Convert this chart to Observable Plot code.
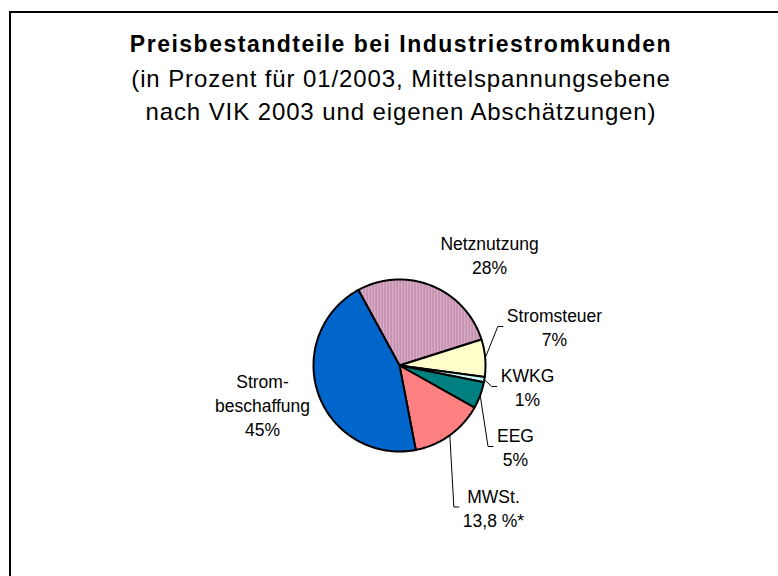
<!DOCTYPE html>
<html>
<head>
<meta charset="utf-8">
<script src="https://cdn.jsdelivr.net/npm/d3@7"></script>
<script src="https://cdn.jsdelivr.net/npm/@observablehq/plot@0.6"></script>
<style>
  html, body { margin: 0; padding: 0; background: #fff; overflow: hidden; width: 778px; height: 576px; }
  body { position: relative; font-family: "Liberation Sans", Arial, sans-serif; color: #000; }
  #frame { position: absolute; left: 9px; top: 11px; width: 900px; height: 700px; border-left: 2px solid #000; border-top: 2px solid #000; }
  .tline { position: absolute; left: 0; width: 802px; text-align: center; line-height: 30px; white-space: nowrap; }
  #t0 { top: 29px; font-size: 23px; font-weight: bold; letter-spacing: 1.5px; }
  #t1 { top: 64px; font-size: 24px; letter-spacing: 0.9px; }
  #t2 { top: 97px; font-size: 24px; letter-spacing: 0.9px; }
  #chart { position: absolute; left: 0; top: 140px; }
</style>
</head>
<body>
<div id="frame"></div>
<div class="tline" id="t0"></div>
<div class="tline" id="t1"></div>
<div class="tline" id="t2"></div>
<div id="chart"></div>
<script>
// ---- data ----
const titleLines = [
  "Preisbestandteile bei Industriestromkunden",
  "(in Prozent für 01/2003, Mittelspannungsebene",
  "nach VIK 2003 und eigenen Abschätzungen)"
];
const names = ["Netznutzung", "Stromsteuer", "KWKG", "EEG", "MWSt.", "Strom-\nbeschaffung"];
const values = [28, 7, 1, 5, 13.8, 45];
const pctLabels = ["28%", "7%", "1%", "5%", "13,8 %*", "45%"];
const colors = ["url(#netz-stripes)", "#FFFFCC", "#CCFFFF", "#008080", "#FF8080", "#0066CC"];

// ---- layout (not data) ----
const W = 778, H = 436;
const CX = 399, CY = 225, R = 86;           // pie centre / radius in svg pixels
const START_DEG = -28.6;                     // first slice boundary, clockwise from 12 o'clock
const labelOffsetPx = [[90, -111], [155, -39], [128, 21], [116, 81], [94, 141.5], [-137, 39]];
const hasLeader = [false, true, true, true, true, false];
const FONT_SIZE = 17.5, LINE_H = 24;

titleLines.forEach((t, i) => document.getElementById("t" + i).textContent = t);

const pie = d3.pie().sort(null).value(d => d.value)
  .startAngle(START_DEG * Math.PI / 180)
  .endAngle(START_DEG * Math.PI / 180 + 2 * Math.PI);
const rows = names.map((n, i) => ({name: n, value: values[i], pct: pctLabels[i], color: colors[i], i}));
const arcs = pie(rows);

// unit coordinates: radius = 1, y up
const polar = (a, r) => ({x: r * Math.sin(a), y: r * Math.cos(a)});

const slicePolys = arcs.map(a => {
  const n = Math.max(2, Math.ceil((a.endAngle - a.startAngle) / (Math.PI / 180)) + 1);
  const pts = [{x: 0, y: 0}];
  for (let k = 0; k < n; k++) pts.push(polar(a.startAngle + (a.endAngle - a.startAngle) * k / (n - 1), 1));
  pts.push({x: 0, y: 0});
  return {color: a.data.color, pts};
});

const ctx = document.createElement("canvas").getContext("2d");
ctx.font = `${FONT_SIZE}px "Liberation Sans"`;

const labels = arcs.map((a, i) => {
  const text = a.data.name + "\n" + a.data.pct;
  const [dx, dy] = labelOffsetPx[i];
  return {text, x: dx / R, y: -dy / R, i, widest: d3.max(text.split("\n"), s => ctx.measureText(s).width)};
});

const leaders = [];
arcs.forEach((a, i) => {
  if (!hasLeader[i]) return;
  const lab = labels[i];
  const mid = (a.startAngle + a.endAngle) / 2;
  const p = polar(mid, 1);
  const endX = lab.x - (lab.widest / 2 + 4) / R;
  const elbowX = endX - 5 / R;
  leaders.push({k: i, x: p.x, y: p.y});
  leaders.push({k: i, x: elbowX, y: lab.y});
  leaders.push({k: i, x: endX, y: lab.y});
});

const svg = Plot.plot({
  width: W,
  height: H,
  margin: 0,
  style: {fontFamily: '"Liberation Sans", Arial, sans-serif', background: "transparent"},
  x: {domain: [-CX / R, (W - CX) / R], axis: null},
  y: {domain: [-(H - CY) / R, CY / R], axis: null},
  marks: [
    ...slicePolys.map(s => Plot.line(s.pts, {x: "x", y: "y", fill: s.color, stroke: "#000", strokeWidth: 2, strokeLinejoin: "round"})),
    Plot.line(leaders, {x: "x", y: "y", z: "k", stroke: "#000", strokeWidth: 1}),
    Plot.text(labels, {x: "x", y: "y", text: "text", fontSize: FONT_SIZE, lineHeight: LINE_H / FONT_SIZE, fill: "#000"})
  ]
});

// stripe pattern for "Netznutzung"
const defs = d3.select(svg).insert("defs", ":first-child");
const pat = defs.append("pattern").attr("id", "netz-stripes").attr("patternUnits", "userSpaceOnUse")
  .attr("width", 3).attr("height", 3);
pat.append("rect").attr("width", 3).attr("height", 3).attr("fill", "#DDB3CE");
pat.append("rect").attr("width", 1.3).attr("height", 3).attr("fill", "#B9809F");

document.getElementById("chart").appendChild(svg);
</script>
</body>
</html>
